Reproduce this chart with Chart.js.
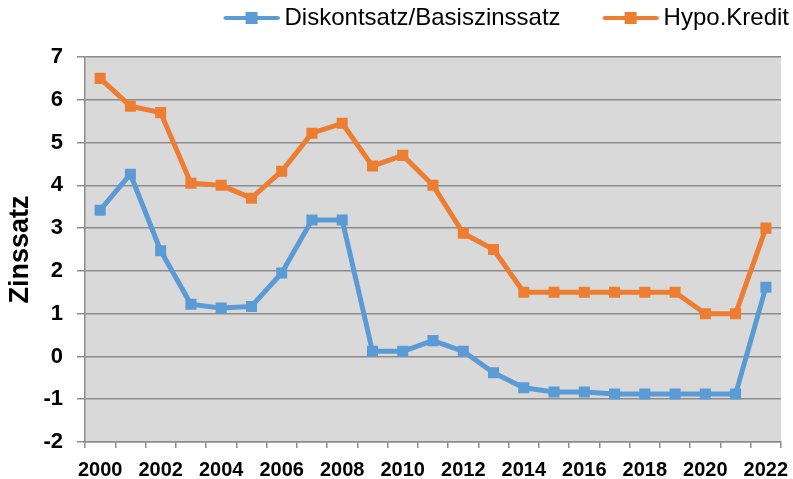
<!DOCTYPE html>
<html>
<head>
<meta charset="utf-8">
<script src="https://cdn.jsdelivr.net/npm/chart.js@4/dist/chart.umd.min.js"></script>
<style>
html,body{margin:0;padding:0;background:#fff;}
#wrap{position:relative;width:793px;height:479px;}
</style>
</head>
<body>
<div id="wrap"><canvas id="c"></canvas></div>
<script>
const years = ['2000','2001','2002','2003','2004','2005','2006','2007','2008','2009','2010','2011','2012','2013','2014','2015','2016','2017','2018','2019','2020','2021','2022'];
const diskont = [3.42,4.26,2.47,1.22,1.13,1.17,1.95,3.19,3.19,0.12,0.12,0.37,0.12,-0.38,-0.73,-0.83,-0.83,-0.88,-0.88,-0.88,-0.88,-0.88,1.62];
const hypo = [6.5,5.85,5.7,4.05,4.0,3.7,4.33,5.22,5.45,4.45,4.7,4.0,2.88,2.5,1.5,1.5,1.5,1.5,1.5,1.5,1.0,1.0,3.0];
const seriesNames = ['Diskontsatz/Basiszinssatz','Hypo.Kredit'];
const yAxisTitle = 'Zinssatz';
const yMin = -2, yMax = 7, yStep = 1;

const BLUE = '#5b9bd5', ORANGE = '#ed7d31', GRID = '#8c8c8c';
const FONT = "'Liberation Sans', Arial, sans-serif";

function makeIcon(color){
  const c = document.createElement('canvas');
  c.width = 105; c.height = 14;
  const g = c.getContext('2d');
  g.strokeStyle = color; g.lineWidth = 4; g.lineCap = 'round';
  g.beginPath(); g.moveTo(51, 7); g.lineTo(103, 7); g.stroke();
  g.fillStyle = color; g.fillRect(71, 1, 12, 12);
  return c;
}
const icons = [makeIcon(BLUE), makeIcon(ORANGE)];

const bgPlugin = {
  id: 'plotBg',
  beforeDraw(chart){
    const {ctx, chartArea: a} = chart;
    ctx.save();
    ctx.fillStyle = '#d9d9d9';
    ctx.fillRect(a.left, a.top, a.right - a.left, a.bottom - a.top);
    ctx.restore();
  }
};
const legendPad = {
  id: 'legendPad',
  beforeInit(chart){
    const lg = chart.legend;
    if (lg) {
      const f = lg.fit;
      lg.fit = function(){ f.call(this); this.height += 17; };
    }
  }
};

new Chart(document.getElementById('c'), {
  type: 'line',
  data: {
    labels: years,
    datasets: [
      {label: seriesNames[0], data: diskont, borderColor: BLUE, backgroundColor: BLUE,
       borderWidth: 5, pointStyle: 'rect', pointRadius: 7.8, pointBorderWidth: 0,
       pointBackgroundColor: BLUE, tension: 0, borderJoinStyle: 'round'},
      {label: seriesNames[1], data: hypo, borderColor: ORANGE, backgroundColor: ORANGE,
       borderWidth: 5, pointStyle: 'rect', pointRadius: 7.8, pointBorderWidth: 0,
       pointBackgroundColor: ORANGE, tension: 0, borderJoinStyle: 'round'}
    ]
  },
  options: {
    responsive: true,
    maintainAspectRatio: false,
    animation: false,
    devicePixelRatio: 1,
    layout: {padding: {top: 6, right: 4, left: 0, bottom: 0}},
    plugins: {
      tooltip: {enabled: false},
      legend: {
        display: true,
        position: 'top',
        align: 'end',
        labels: {
          usePointStyle: true,
          pointStyleWidth: 91,
          padding: 0,
          color: '#000',
          font: {family: FONT, size: 24},
          generateLabels: (chart) => chart.data.datasets.map((ds, i) => ({
            text: ds.label, pointStyle: icons[i], fillStyle: ds.borderColor,
            strokeStyle: ds.borderColor, lineWidth: 0, hidden: false,
            datasetIndex: i, fontColor: '#000'
          }))
        }
      }
    },
    scales: {
      x: {
        type: 'category',
        offset: true,
        grid: {display: true, drawOnChartArea: false, drawTicks: true, tickLength: 6,
               offset: true, color: GRID, lineWidth: 1.5},
        border: {display: true, color: GRID, width: 1.5},
        ticks: {
          autoSkip: false, maxRotation: 0, minRotation: 0, padding: 10, color: '#000',
          font: {family: FONT, size: 20, weight: 'bold'},
          callback: function(v, i){ return i % 2 === 0 ? this.getLabelForValue(v) : ''; }
        },
        afterFit(s){ s.height = 37; s.paddingRight = 12; s.paddingLeft = 0; }
      },
      y: {
        min: yMin, max: yMax,
        ticks: {stepSize: yStep, padding: 14, color: '#000',
                font: {family: FONT, size: 22, weight: 'bold'}},
        grid: {color: GRID, lineWidth: 1.5, drawTicks: true, tickLength: 8},
        border: {display: true, color: GRID, width: 1.5},
        title: {display: true, text: yAxisTitle, color: '#000',
                font: {family: FONT, size: 27, weight: 'bold'}, padding: {top: 4, bottom: 0}},
        afterFit(s){ s.width = 85; }
      }
    }
  },
  plugins: [bgPlugin, legendPad]
});
</script>
</body>
</html>
